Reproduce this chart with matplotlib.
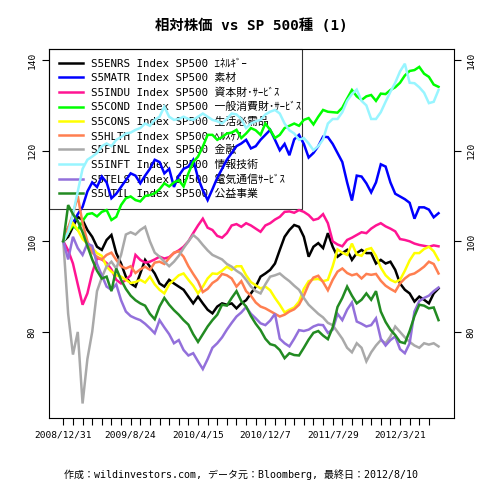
import matplotlib
matplotlib.use("Agg")
import matplotlib.pyplot as plt
import numpy as np

# 等幅の英数字 + 日本語フォールバック
plt.rcParams['font.family'] = ['DejaVu Sans Mono', 'Noto Sans CJK JP']

title = "相対株価 vs SP 500種 (1)"
footer = "作成：wildinvestors.com, データ元：Bloomberg, 最終日：2012/8/10"

# 横軸: 目盛1つ = 約23営業日, 7目盛ごとに日付ラベル
date_labels = ["2008/12/31", "2009/8/24", "2010/4/15", "2010/12/7", "2011/7/29", "2012/3/21"]
n_ticks = 39
label_every = 7

tickers = ["S5ENRS", "S5MATR", "S5INDU", "S5COND", "S5CONS",
           "S5HLTH", "S5FINL", "S5INFT", "S5TELS", "S5UTIL"]
sectors = ["ｴﾈﾙｷﾞｰ", "素材", "資本財･ｻｰﾋﾞｽ", "一般消費財･ｻｰﾋﾞｽ", "生活必需品",
           "ﾍﾙｽｹｱ", "金融", "情報技術", "電気通信ｻｰﾋﾞｽ", "公益事業"]
colors = ["#000000", "#0000FF", "#FF1493", "#00FF00", "#FFFF00",
          "#FF7F50", "#A9A9A9", "#98F5FF", "#9370DB", "#228B22"]

# 相対株価 (開始=100), 半目盛ごとの読み取り値
enrs = [100, 101, 103.2, 105.4, 104.7, 102.5, 101, 98.8, 98.1, 100.3,
        101.4, 97.4, 95.1, 92.2, 90.7, 90, 92.9, 95.9, 94.4, 92.9,
        90.7, 90, 91.5, 90.7, 90, 89.3, 87.8, 86.3, 87.8, 86.3,
        84.9, 84.1, 85.6, 86.3, 86, 86.3, 85.2, 86.3, 87, 88.5,
        90, 92.2, 92.9, 93.7, 95.1, 98.1, 101, 102.5, 103.6, 103.2,
        101, 96.6, 98.8, 99.6, 98.5, 101.8, 98.8, 96.6, 97.4, 98.1,
        95.9, 97.4, 98.1, 97.4, 97.4, 95.1, 95.9, 95.1, 95.5, 93.7,
        90.7, 89.3, 88.5, 86.7, 87.8, 87.1, 86.3, 88.5, 89.6]
matr = [100, 103, 104, 106, 107.6, 111, 113, 112, 114.3, 113,
        109.5, 110.5, 112, 113.5, 115, 114.5, 112.8, 114.5, 116, 118,
        117.5, 115, 116, 112, 114.5, 116, 116.5, 118, 114, 111.3,
        109.1, 111.5, 114, 116, 118, 119.5, 121, 121.6, 122.4, 120.5,
        121, 122.4, 123.5, 124.6, 122.4, 120.1, 121.5, 119, 122.5, 123.5,
        121.5, 118.5, 119.5, 121, 123.1, 123, 121.5, 119.5, 117.5, 113,
        109, 114.5, 114.3, 112.8, 110.8, 113, 117, 116.5, 113, 110.5,
        109.9, 109.3, 108.5, 105, 107.5, 107.5, 107, 105.3, 106.2]
indu = [100, 98, 95.1, 90.5, 86, 88.5, 93, 96.3, 96, 95.2,
        93.8, 91.5, 90.7, 91.5, 92.5, 97, 95.9, 95.3, 95.5, 96,
        96.6, 96.2, 96.5, 97.4, 98, 98.8, 100, 101.8, 103.5, 105,
        103, 102.5, 101.2, 100.8, 101.8, 103.5, 103.8, 103.2, 104, 103.5,
        102.8, 102.1, 103.5, 104, 104.8, 105.4, 106.5, 106.6, 106.3, 106.9,
        106.5, 105.8, 104.7, 105, 106, 104, 100, 99.3, 98.9, 100.3,
        100.8, 101.4, 102, 101.8, 102.8, 103.5, 104, 103.3, 102.8, 102.2,
        100.5, 100.3, 100, 99.5, 99.2, 99, 98.8, 99.1, 98.9]
cond = [100, 102, 103.5, 102.5, 104.5, 106, 106.2, 105.5, 106.5, 106.9,
        104.7, 105.4, 108, 109.5, 109.9, 109.1, 108.8, 110, 110.2, 110.6,
        111.5, 112.8, 112.1, 113, 113.5, 112.1, 115, 117.5, 118.7, 120.9,
        123.5, 123.5, 122.4, 123, 123.8, 124, 124.6, 122.8, 123.8, 125,
        124.5, 123.5, 126, 124.6, 122.8, 123.5, 125, 125.5, 126, 125.5,
        126.8, 127.2, 125.8, 127.5, 129, 128.6, 128.5, 128.4, 129.5, 131.5,
        133.4, 132, 131.2, 132, 132.3, 131, 132.6, 132.5, 133.4, 134,
        135, 136.6, 137.6, 137.8, 138.5, 137, 136.3, 134.6, 134.1]
cons = [100, 102, 104, 102.5, 100.5, 99.5, 98.5, 97.4, 96.8, 94.4,
        93.3, 92.5, 92.2, 91.5, 90.8, 91, 91.5, 90.9, 92.2, 90.5,
        89.3, 88.5, 90.5, 91.5, 92.5, 92.9, 91.5, 90.2, 88.5, 90,
        91.8, 92.9, 92.8, 93.5, 94.4, 93.7, 94.5, 94.5, 92.5, 91,
        90.3, 89.6, 90, 89.2, 87.5, 86, 84.3, 84.9, 85.4, 86.7,
        89.5, 91.2, 91.6, 91.7, 91.2, 91.5, 94.5, 98.2, 97.5, 97,
        99.5, 97.1, 96.8, 98.2, 98.5, 96.8, 94.2, 92.5, 91.5, 91,
        91.5, 93.5, 95.8, 97.4, 97.4, 98.3, 98.8, 97.8, 95.9]
hlth = [100, 103, 106, 110, 104, 100, 97.5, 96.6, 96, 97,
        97.5, 95.9, 94.5, 94, 94.5, 93, 93.8, 94.4, 93.7, 95.3,
        95.5, 95, 96.3, 97.5, 97.8, 96.6, 94.5, 92.8, 91.2, 88.8,
        89.5, 90.8, 91.5, 92.8, 92.5, 91.8, 90, 91.2, 89, 88,
        86.5, 85.6, 85.2, 84.6, 84, 83.4, 83.8, 84.5, 85, 86,
        88, 90.5, 92, 92.4, 91, 89.2, 91.5, 93.3, 94, 93,
        92.5, 92.8, 91.8, 92.8, 92.6, 92.8, 91.3, 90.2, 89.5, 88.9,
        90.7, 91.8, 92.6, 92.9, 93.6, 94.4, 95.5, 95, 92.9]
finl = [100, 84, 75, 80, 64.2, 74, 80, 89, 92, 94.5,
        95.5, 94, 97, 101.5, 102, 101.5, 102.5, 103.2, 100, 97.5,
        96.6, 95.5, 94.5, 95.5, 96.8, 98.5, 100, 101.4, 100.5, 99.2,
        98, 97, 96.5, 96, 95, 94.4, 93.5, 92.8, 91.5, 90,
        89, 88.5, 90.5, 92.2, 92.5, 92.9, 92, 91.2, 90.2, 89.3,
        87.5, 86, 85, 84, 83.2, 82, 81.5, 80, 78.5, 76.5,
        75.5, 77.5, 76.5, 73.5, 75.5, 77, 78.2, 77.5, 79, 81.2,
        80, 78.8, 77.8, 77, 76.5, 77.5, 77.2, 77.5, 76.8]
inft = [100, 102, 106, 111, 116, 118, 118.7, 119.5, 121, 121.6,
        121, 122.4, 123, 123.8, 124, 124.6, 125, 126, 125.5, 126.8,
        127.5, 129.7, 127.5, 126.8, 127, 127.5, 127, 126.8, 127.5, 128.2,
        127.5, 126.8, 126.5, 126, 127, 128.2, 128, 127, 125, 126,
        126.5, 126.8, 128, 128.6, 129, 128.2, 126, 124.5, 123.8, 122.4,
        122.8, 121.6, 120.1, 121, 122.5, 126, 127, 127, 128.5, 131,
        132.5, 133.5, 131, 130, 127, 127, 128.5, 130.8, 133, 135,
        137.5, 139.2, 135, 134.9, 134, 132.8, 130.5, 130.8, 133.4]
tels = [100, 96, 101, 98.5, 97, 99.5, 99, 95, 92.5, 90,
        89.3, 90.5, 87, 84.5, 83.5, 83, 82.6, 81.8, 80.8, 79.7,
        82.6, 81, 79.5, 77.5, 78.2, 76, 74.8, 75.3, 73.5, 71.8,
        74, 76.5, 77.5, 78.8, 80.5, 82, 83.4, 84.3, 85.5, 84,
        83, 81.9, 81.5, 82.5, 84, 78.5, 77.5, 76.8, 78.5, 80.4,
        80.2, 80.5, 81.2, 81.6, 81.5, 79.8, 80.5, 84, 82.6, 84.9,
        86.5, 82.3, 81.8, 81.2, 81.5, 83, 78.5, 77, 78.2, 79,
        76.2, 75.3, 77.5, 84.5, 86.8, 87.5, 88, 89, 89.8]
util = [100, 108, 106, 104.5, 102, 99, 96, 93.5, 91.8, 92.2,
        89, 94, 91.5, 89.5, 88, 87, 86.3, 85.8, 84, 82.8,
        85.6, 87.5, 86, 84.8, 83.8, 82.6, 81.6, 79.5, 77.8, 79.5,
        81.2, 82.6, 83.8, 86, 85.8, 87.5, 89, 86.8, 85.6, 83.5,
        81.8, 80.4, 78.5, 77.3, 77, 76, 74.2, 75.3, 74.9, 74.8,
        76.5, 78.3, 79.8, 80.2, 79.2, 78.4, 81, 85.5, 87.5, 90,
        88, 86.3, 87.1, 88.5, 87.1, 89, 84.5, 82.2, 80.5, 79.3,
        77.8, 77.5, 80.2, 83.5, 86, 85.8, 85.2, 85.4, 82.6]

series = [enrs, matr, indu, cond, cons, hlth, finl, inft, tels, util]

fig = plt.figure(figsize=(4.8, 4.8), dpi=100)
ax = fig.add_axes([49 / 480, 62 / 480, 405 / 480, 369 / 480])

for tk, sec, col, vals in zip(tickers, sectors, colors, series):
    steps = np.arange(len(vals)) * 0.5
    ax.plot(steps, vals, color=col, lw=1.8, solid_joinstyle='miter', zorder=2,
            label=f"{tk} Index SP500 {sec}")

ax.set_xlim(-1.49, 40.61)
ax.set_ylim(61.0, 142.45)

tick_pos = np.arange(n_ticks)
tick_lbl = [""] * n_ticks
for i, d in enumerate(date_labels):
    tick_lbl[i * label_every] = d
ax.set_xticks(tick_pos)
ax.set_xticklabels(tick_lbl)
ax.set_yticks([80, 100, 120, 140])

ax.tick_params(axis='both', direction='out', length=5, width=0.8, labelsize=6.8, pad=4)
ax.tick_params(axis='y', right=True, labelright=True, labelrotation=90)
for t in ax.yaxis.get_major_ticks():
    t.label1.set_va('center')
    t.label2.set_va('center')
for s in ax.spines.values():
    s.set_linewidth(0.8)

leg = ax.legend(loc='upper left', bbox_to_anchor=(0, 0, 0.625, 1), mode='expand',
                borderaxespad=0, fancybox=False, edgecolor='black', facecolor='none',
                fontsize=7.8, handlelength=2.2, handletextpad=0.8,
                labelspacing=0.39, borderpad=0.9)
leg.get_frame().set_linewidth(0.8)
leg.set_zorder(1)

fig.text(251 / 480, 1 - 26 / 480, title, ha='center', va='center',
         fontsize=10.4, fontweight='bold')
fig.text(241 / 480, 1 - 475 / 480, footer, ha='center', va='center', fontsize=7.2)

fig.savefig("out.png", dpi=100)
